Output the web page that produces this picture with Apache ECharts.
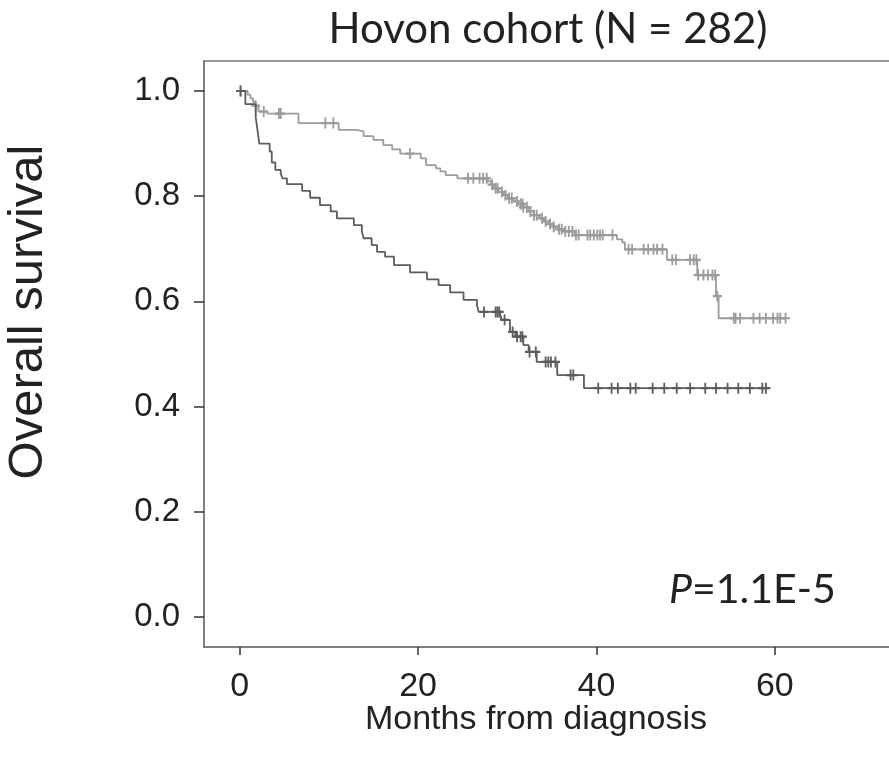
<!DOCTYPE html>
<html>
<head>
<meta charset="utf-8">
<script src="https://cdn.jsdelivr.net/npm/echarts@6/dist/echarts.min.js"></script>
<style>
  html, body { margin: 0; padding: 0; background: #fff; }
  #main { width: 889px; height: 767px; }
</style>
</head>
<body>
<div id="main"></div>
<script>
// months from diagnosis where the survival steps to the value below
const lightTimes = [0, 0.9, 1.2, 1.5, 1.8, 2.1, 3.1, 6.6, 11.1, 13.0, 13.9, 15.0, 16.1, 17.1, 18.0, 20.3, 20.9, 22.0, 22.5, 23.1, 24.4,
  27.8, 28.2, 28.5, 29.0, 29.6, 30.1, 30.7, 31.2, 31.8, 32.4, 33.0, 33.6, 34.1, 34.7, 35.2, 35.8, 36.3, 37.6,
  42.3, 42.9, 43.2, 47.9, 51.3, 53.4, 53.7];
const lightSurv = [1.0, 0.993, 0.986, 0.979, 0.972, 0.961, 0.957, 0.939, 0.926, 0.923, 0.914, 0.907, 0.897, 0.889, 0.881, 0.872, 0.859, 0.853, 0.847, 0.840, 0.834,
  0.828, 0.822, 0.815, 0.808, 0.802, 0.796, 0.790, 0.785, 0.779, 0.771, 0.764, 0.758, 0.752, 0.747, 0.742, 0.737, 0.733, 0.726,
  0.718, 0.712, 0.699, 0.679, 0.650, 0.610, 0.568];
const lightEnd = 61.2;
const lightCensor = [0.1, 1.8, 2.7, 4.4, 4.6, 9.6, 10.5, 19.1, 25.6, 26.2, 26.9, 27.3, 27.7, 28.3, 28.7, 28.9, 29.4, 29.8, 30.2, 30.5,
  31.1, 31.5, 31.7, 31.8, 32.2, 32.6, 33.0, 33.3, 33.9, 34.3, 34.8, 35.2, 35.8, 36.1, 36.5, 36.9, 37.3, 37.7, 38.0,
  39.0, 39.3, 39.7, 40.1, 40.4, 40.7, 41.8, 43.6, 44.0, 45.3, 45.8, 46.4, 46.8, 47.4, 48.5, 48.9, 50.5, 50.9, 51.2,
  51.4, 52.0, 52.5, 53.0, 53.3, 53.55, 55.4, 55.6, 56.1, 57.6, 58.3, 59.0, 59.8, 60.3, 60.6, 61.2];

const darkTimes = [0, 0.64, 1.8, 2.0, 2.2, 3.36, 3.6, 4.0, 4.6, 4.8, 5.3, 7.0, 7.9, 9.0, 10.2, 10.9, 12.8, 13.7, 13.9, 14.8, 15.4,
  16.3, 17.3, 19.1, 21.0, 22.3, 23.6, 25.1, 26.6, 26.8, 29.2, 29.4, 30.3, 30.9, 31.8, 32.4, 33.3, 35.6, 38.6];
const darkSurv = [1.0, 0.975, 0.95, 0.925, 0.900, 0.885, 0.864, 0.850, 0.843, 0.834, 0.823, 0.810, 0.797, 0.783, 0.771, 0.758, 0.745, 0.733, 0.720, 0.707, 0.694,
  0.685, 0.669, 0.655, 0.642, 0.631, 0.617, 0.603, 0.593, 0.580, 0.574, 0.565, 0.542, 0.533, 0.517, 0.504, 0.485, 0.460, 0.435];
const darkEnd = 59.0;
const darkCensor = [0.1, 27.4, 28.7, 28.9, 29.1, 29.7, 30.6, 31.1, 31.5, 31.7, 32.5, 33.2, 34.3, 34.6, 34.9, 35.4, 37.1, 37.4,
  40.2, 41.7, 42.4, 43.8, 44.4, 46.3, 47.6, 49.0, 50.5, 52.2, 53.4, 54.7, 55.9, 57.2, 58.6, 59.0];

const xTicks = [0, 20, 40, 60];
const yTicks = [0, 0.2, 0.4, 0.6, 0.8, 1.0];

function stepData(times, surv, end) {
  const d = times.map((t, i) => [t, surv[i]]);
  d.push([end, surv[surv.length - 1]]);
  return d;
}
function survAt(times, surv, t) {
  let s = surv[0];
  for (let i = 0; i < times.length; i++) {
    if (times[i] <= t) s = surv[i];
  }
  return s;
}
function censorData(times, surv, cens) {
  return cens.map(t => [t, survAt(times, surv, t)]);
}

const plusPath = 'path://M4,0h2v4h4v2h-4v4h-2v-4h-4v-2h4z';
const lightColor = '#9b9b9b';
const darkColor = '#5c5c5c';
const axisColor = '#555';
const textColor = '#222';

const chart = echarts.init(document.getElementById('main'), null, {renderer: 'canvas'});
chart.setOption({
  animation: false,
  backgroundColor: '#fff',
  grid: {left: 204, top: 61, right: 0, bottom: 120, show: false},
  xAxis: [{
    type: 'value', min: -4, max: 72.8,
    splitLine: {show: false},
    axisLine: {show: true, onZero: false, lineStyle: {color: axisColor, width: 1.5}},
    axisTick: {show: true, customValues: xTicks, length: 8, lineStyle: {color: '#333', width: 1.5}},
    axisLabel: {customValues: xTicks, fontFamily: 'Liberation Sans', fontSize: 34, color: textColor, margin: 23}
  }, {
    // top frame line only
    type: 'value', position: 'top', min: -4, max: 72.8,
    splitLine: {show: false},
    axisLine: {show: true, onZero: false, lineStyle: {color: '#777', width: 1.5}},
    axisTick: {show: false}, axisLabel: {show: false}
  }],
  yAxis: {
    type: 'value', min: -0.057, max: 1.057,
    splitLine: {show: false},
    axisLine: {show: true, onZero: false, lineStyle: {color: axisColor, width: 1.5}},
    axisTick: {show: true, customValues: yTicks, length: 10, lineStyle: {color: '#333', width: 1.5}},
    axisLabel: {customValues: yTicks, fontFamily: 'Liberation Sans', fontSize: 33, color: textColor, margin: 24,
      formatter: v => v.toFixed(1)}
  },
  graphic: [
    {type: 'text', x: 548, y: 29, style: {text: 'Hovon cohort (N = 282)', font: '42px Lato', fill: textColor,
      textAlign: 'center', textVerticalAlign: 'middle', align: 'center', verticalAlign: 'middle'}},
    {type: 'text', x: 536, y: 720, style: {text: 'Months from diagnosis', font: '34px "Liberation Sans"', fill: textColor,
      textAlign: 'center', textVerticalAlign: 'middle', align: 'center', verticalAlign: 'middle'}},
    {type: 'text', x: 28, y: 312, rotation: Math.PI / 2, style: {text: 'Overall survival', font: '49px "Liberation Sans"', fill: textColor,
      textAlign: 'center', textVerticalAlign: 'middle', align: 'center', verticalAlign: 'middle'}},
    {type: 'text', x: 669, y: 590, style: {text: '{i|P}=1.1E-5', font: '41px Lato', fill: textColor,
      textAlign: 'left', textVerticalAlign: 'middle', align: 'left', verticalAlign: 'middle',
      rich: {i: {fontStyle: 'italic', fontFamily: 'Lato', fontSize: 41, fill: textColor}}}}
  ],
  series: [
    {
      type: 'line', step: 'end', showSymbol: false, silent: true,
      data: stepData(lightTimes, lightSurv, lightEnd),
      lineStyle: {color: lightColor, width: 1.8}
    },
    {
      type: 'scatter', silent: true, symbol: plusPath, symbolSize: [9, 11],
      data: censorData(lightTimes, lightSurv, lightCensor),
      itemStyle: {color: lightColor, opacity: 1}
    },
    {
      type: 'line', step: 'end', showSymbol: false, silent: true,
      data: stepData(darkTimes, darkSurv, darkEnd),
      lineStyle: {color: darkColor, width: 1.8}
    },
    {
      type: 'scatter', silent: true, symbol: plusPath, symbolSize: [9, 11],
      data: censorData(darkTimes, darkSurv, darkCensor),
      itemStyle: {color: darkColor, opacity: 1}
    }
  ]
});
</script>
</body>
</html>
